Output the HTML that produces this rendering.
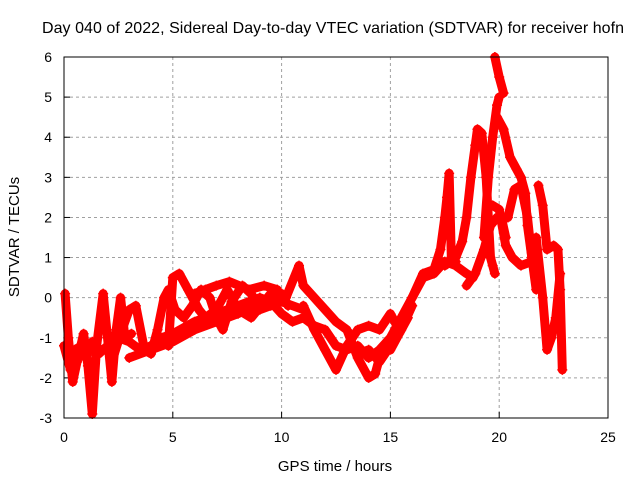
<!DOCTYPE html>
<html><head><meta charset="utf-8"><style>
body{margin:0;background:#fff}
svg{display:block;font-family:"Liberation Sans",sans-serif}
</style></head><body>
<svg id="chart" width="640" height="480">
<text x="333" y="33" font-size="16" text-anchor="middle" textLength="582">Day 040 of 2022, Sidereal Day-to-day VTEC variation (SDTVAR) for receiver hofn</text>
<text x="335" y="471" font-size="15" text-anchor="middle">GPS time / hours</text>
<text transform="translate(19,237) rotate(-90)" font-size="15" text-anchor="middle">SDTVAR / TECUs</text>
<g id="grid"></g><g id="ticks"></g><g id="series"></g>
<rect x="64" y="57" width="544" height="361" fill="none" stroke="#000" stroke-width="1"/>
</svg>
<script>
const xTicks=[0,5,10,15,20,25];
const yTicks=[-3,-2,-1,0,1,2,3,4,5,6];
const tracks=[
[[0,-1.2],[0.3,-1.8],[0.5,-1.3],[0.8,-1.2],[1.0,-1.5],[1.3,-1.1],[1.6,-1.4],[2,-1.2],[2.5,-1.0],[3,-1.1],[3.5,-1.3],[4,-1.2],[4.5,-1.0],[5,-0.9],[6,-0.6],[7,-0.4],[8,-0.2],[9,0],[9.5,-0.1],[10,-0.4],[10.5,-0.6],[11,-0.5],[11.5,-0.7],[12,-0.8],[12.5,-1.2],[13,-1.3],[13.5,-1.2],[14,-1.5],[14.5,-1.3],[15,-1.0],[15.5,-0.5],[16,0],[16.5,0.5],[17,0.6],[17.5,0.9],[18,0.8],[18.5,0.6],[18.8,0.5]],
[[0.05,0.1],[0.2,-1.0],[0.4,-2.1],[0.6,-1.6],[0.9,-0.9],[1.1,-1.7],[1.3,-2.9],[1.5,-1.2],[1.8,0.1],[2.0,-1.0],[2.2,-2.1],[2.4,-0.8],[2.6,0],[2.8,-1.0],[3.1,-0.9]],
[[2.2,-1.6],[2.6,-0.9],[3.0,-0.3],[3.3,-0.2],[3.7,-1.3],[4.0,-1.4],[4.3,-0.8],[4.6,0],[4.8,0.2],[5.1,-0.3],[5.5,-0.5],[5.9,-0.2],[6.3,0.2],[6.7,0],[7.0,-0.5],[7.3,-0.8],[7.7,-0.1],[8.2,0.3],[8.6,0.1],[9.0,-0.3],[9.5,-0.2],[10,0.1],[10.3,-0.2]],
[[4.8,-1.2],[5.0,0.5],[5.3,0.6],[5.7,0.2],[6.2,-0.3],[6.5,-0.5],[7.0,-0.3],[7.5,0.2],[8.0,-0.3],[8.6,-0.5],[9.5,0.1],[10.2,0],[10.8,0.8],[11,0.3],[11.5,0],[12,-0.3],[12.5,-0.6],[13,-0.8],[13.5,-1.5],[14,-2.0],[14.3,-1.9],[14.6,-1.3],[15,-1.3],[15.4,-0.9],[15.8,-0.5]],
[[11,-0.2],[11.5,-0.8],[12,-1.3],[12.5,-1.8],[13,-1.2],[13.5,-0.8],[14,-0.7],[14.5,-0.8],[15,-0.4],[15.3,-0.7]],
[[3,-1.5],[4,-1.3],[5,-1.1],[6,-0.8],[7,-0.6],[8,-0.4],[9,-0.1],[10,-0.1],[11,-0.3]],
[[6,0.1],[6.5,0.2],[7,0.3],[7.6,0.4],[8.5,0.2],[9.2,0.3],[9.8,0.2]],
[[13.5,-1.4],[14,-1.3],[14.5,-1.6],[15,-1.2],[15.5,-0.8],[16,-0.2]],
[[16,0],[16.5,0.6],[17,0.7],[17.3,1.2],[17.5,2.0],[17.6,2.5],[17.7,3.1],[17.8,1.0],[18,0.9]],
[[17.5,0.8],[18,1.0],[18.3,1.4],[18.5,2.0],[18.7,3.0],[18.9,3.8],[19.0,4.2],[19.2,4.1],[19.4,3.0],[19.5,2.0],[19.6,1.0],[19.7,0.8],[19.8,0.6]],
[[18.5,0.3],[18.9,0.6],[19.3,1.2],[19.6,1.8],[19.9,2.0],[20.1,2.0],[20.3,1.5]],
[[19.3,1.5],[19.5,3.0],[19.7,4.0],[19.9,4.8],[20.0,5.0]],
[[19.8,6.0],[20.0,5.5],[20.2,5.1]],
[[19.9,4.5],[20.2,4.2],[20.5,3.5],[20.8,3.2],[21.0,3.0],[21.2,2.6],[21.3,1.8],[21.5,1.0]],
[[19.7,2.3],[20.0,2.2],[20.3,1.3],[20.6,1.0],[21,0.8],[21.5,0.9]],
[[20.4,2.0],[20.7,2.7],[21.0,2.8],[21.3,2.0],[21.5,1.0],[21.7,0.2]],
[[21.8,2.8],[22.0,2.3],[22.2,1.2],[22.5,1.3],[22.7,1.2],[22.8,0.2],[22.9,-1.8]],
[[21.7,1.5],[22.0,0],[22.2,-1.3],[22.4,-1.0],[22.6,-0.5],[22.8,0.6]]
];
const NS='http://www.w3.org/2000/svg';
const X=t=>64+t*544/25, Y=v=>418-(v+3)*361/9;
const grid=document.getElementById('grid'),ticks=document.getElementById('ticks'),ser=document.getElementById('series');
function mk(tag,attrs,parent){const e=document.createElementNS(NS,tag);for(const k in attrs)e.setAttribute(k,attrs[k]);parent.appendChild(e);return e;}
xTicks.forEach(t=>{
 if(t>0&&t<25){const g=mk('line',{x1:X(t),x2:X(t),y1:57,y2:418,stroke:'#a0a0a0','stroke-dasharray':'3,3'},grid);
 
 }
 const l=mk('text',{x:X(t),y:442,'font-size':14,'text-anchor':'middle'},ticks);l.textContent=t;
 
 
 mk('line',{x1:X(t),x2:X(t),y1:418,y2:412,stroke:'#000'},ticks);
});
yTicks.forEach(v=>{
 if(v>-3&&v<6){const g=mk('line',{x1:64,x2:608,y1:Y(v),y2:Y(v),stroke:'#a0a0a0','stroke-dasharray':'3,3'},grid);
 
 }
 const l=mk('text',{x:52,y:Y(v)+5,'font-size':14,'text-anchor':'end'},ticks);l.textContent=v;
 
 
 mk('line',{x1:64,x2:70,y1:Y(v),y2:Y(v),stroke:'#000'},ticks);
});
tracks.forEach((tr,i)=>{
 const g=mk('g',{},ser);
 
 
 mk('polyline',{points:tr.map(p=>X(p[0])+','+Y(p[1])).join(' '),fill:'none',stroke:'#ff0000','stroke-width':9,'stroke-linejoin':'round','stroke-linecap':'round'},g);
 tr.forEach(p=>{
  const m=mk('path',{d:`M${X(p[0])-5},${Y(p[1])}h10M${X(p[0])},${Y(p[1])-5}v10`,stroke:'#ff0000','stroke-width':1.5},g);
  
  
 });
});
</script>
</body></html>
